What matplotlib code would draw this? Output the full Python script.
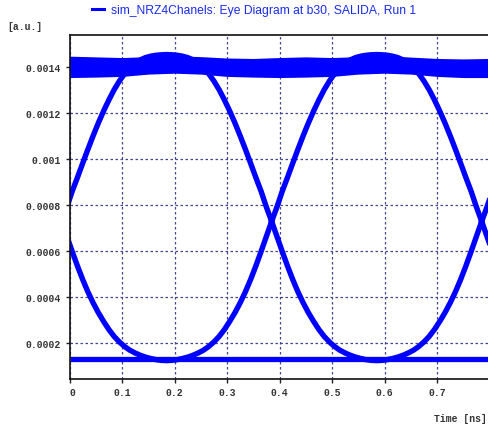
import matplotlib
matplotlib.use("Agg")
import matplotlib.pyplot as plt
from matplotlib.ticker import FixedLocator

# one bit slot of the eye, read around a hump centre: offset [ns]
d_offset = [-0.20, -0.19, -0.18, -0.17, -0.16, -0.15, -0.14, -0.13, -0.12, -0.11,
            -0.10, -0.09, -0.08, -0.07, -0.06, -0.05, -0.04, -0.03, -0.02, -0.01,
            0.0, 0.01, 0.02, 0.03, 0.04, 0.05, 0.06, 0.07, 0.08, 0.09,
            0.10, 0.11, 0.12, 0.13, 0.14, 0.15, 0.16, 0.17, 0.18, 0.19, 0.20]

# upper arc ("1" between two transitions)
cap_shape = [0.00073, 0.000792, 0.00086, 0.00092, 0.000982, 0.001043, 0.001102,
             0.001158, 0.00121, 0.001258, 0.001302, 0.00134, 0.001372, 0.001398,
             0.001418, 0.001432, 0.001442, 0.001448, 0.001452, 0.001454, 0.001455,
             0.001454, 0.001452, 0.001448, 0.001442, 0.001432, 0.001418, 0.001398,
             0.001372, 0.00134, 0.001302, 0.001258, 0.00121, 0.001158, 0.001102,
             0.001043, 0.000982, 0.00092, 0.00086, 0.000792, 0.00073]

# lower arc ("0" between two transitions)
cup_shape = [0.00073, 0.000665, 0.0006, 0.000537, 0.000478, 0.000424, 0.000376,
             0.000333, 0.000295, 0.00026, 0.00023, 0.000206, 0.000186, 0.00017,
             0.000158, 0.000148, 0.00014, 0.000134, 0.000129, 0.000126, 0.000125,
             0.000126, 0.000129, 0.000134, 0.00014, 0.000148, 0.000158, 0.00017,
             0.000186, 0.000206, 0.00023, 0.00026, 0.000295, 0.000333, 0.000376,
             0.000424, 0.000478, 0.000537, 0.0006, 0.000665, 0.00073]

# hump centres [ns] (neighbours outside the window fill the edges)
cap_centres = [-0.215, 0.185, 0.585, 0.985]
cup_centres = [-0.215, 0.185, 0.585, 0.985]

# steady levels ("1" band and "0" rail)
t_rail = [0.0, 0.05, 0.1, 0.15, 0.2, 0.25, 0.3, 0.35, 0.4, 0.45, 0.5, 0.55, 0.6,
          0.65, 0.7, 0.75, 0.8]
high_top = [0.001448, 0.001445, 0.001442, 0.001446, 0.00145, 0.001446, 0.00144,
            0.001438, 0.001442, 0.001445, 0.001442, 0.001446, 0.00145, 0.001444,
            0.001438, 0.001436, 0.001438]
high_bot = [0.001355, 0.001357, 0.00136, 0.00137, 0.001374, 0.00137, 0.00136,
            0.001357, 0.001355, 0.001357, 0.00136, 0.00137, 0.001374, 0.00137,
            0.00136, 0.001355, 0.001355]
low_level = [0.000132] * len(t_rail)

xticks = [0, 0.1, 0.2, 0.3, 0.4, 0.5, 0.6, 0.7]
xlabels = ["0", "0.1", "0.2", "0.3", "0.4", "0.5", "0.6", "0.7"]
yticks = [0.0002, 0.0004, 0.0006, 0.0008, 0.001, 0.0012, 0.0014]
ylabels = ["0.0002", "0.0004", "0.0006", "0.0008", "0.001", "0.0012", "0.0014"]

BLUE = "#0000ff"
GRID = "#46468f"
mono = dict(family="Liberation Mono", weight="bold", size=7, color="#333333")

fig = plt.figure(figsize=(4.88, 4.27), dpi=100)
ax = fig.add_axes([69.5 / 488, 47 / 427, (488 - 69.5) / 488, 344 / 427])

ax.fill_between(t_rail, high_bot, high_top, color=BLUE, lw=0)
ax.plot(t_rail, low_level, color=BLUE, lw=3.8, solid_capstyle="butt")

line = None
for c in cap_centres:
    h, = ax.plot([c + d for d in d_offset], cap_shape, color=BLUE, lw=3.9,
                 label="sim_NRZ4Chanels: Eye Diagram at b30, SALIDA, Run 1")
    line = line or h
for c in cup_centres:
    ax.plot([c + d for d in d_offset], cup_shape, color=BLUE, lw=3.9)

ax.set_xlim(0, 0.797)
ax.set_ylim(0.000045, 0.00154)

ax.xaxis.set_major_locator(FixedLocator(xticks))
ax.yaxis.set_major_locator(FixedLocator(yticks))
ax.set_xticklabels(xlabels, fontdict=mono)
ax.set_yticklabels(ylabels, fontdict=mono)
ax.get_xticklabels()[0].set_horizontalalignment("left")
ax.tick_params(axis="both", direction="out", length=3, width=1, color="#222222")
ax.tick_params(axis="x", pad=2.5)
ax.tick_params(axis="y", pad=3)
ax.grid(True, color=GRID, linestyle=(0, (2, 2)), linewidth=0.9)
ax.set_axisbelow(True)

ax.spines["right"].set_visible(False)
for side in ("left", "bottom", "top"):
    ax.spines[side].set_color("#111111")
    ax.spines[side].set_linewidth(1.2)

fig.text(7 / 488, 1 - 27 / 427, "[a.u.]", va="center", ha="left", **mono)
fig.text(487 / 488, 1 - 419 / 427, "Time [ns]", va="center", ha="right", **mono)

leg = fig.legend(handles=[line], loc="center", bbox_to_anchor=(254 / 488, 1 - 11 / 427),
                 frameon=False, handlelength=1.05, handletextpad=0.55,
                 prop={"family": "Liberation Sans", "size": 8.75})
for txt in leg.get_texts():
    txt.set_color("#1a2cf0")
leg.get_lines()[0].set_linewidth(2.2)

fig.savefig("out.png", dpi=100)
